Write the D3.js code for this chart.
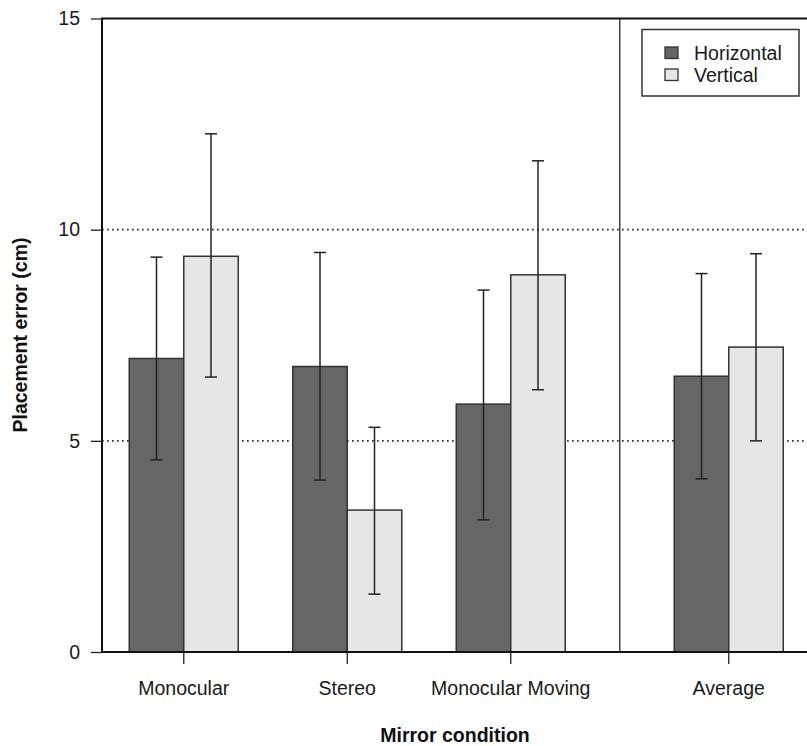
<!DOCTYPE html>
<html lang="en">
<head>
  <meta charset="utf-8">
  <title>Placement error by mirror condition</title>
  <script src="https://d3js.org/d3.v7.min.js" type="text/javascript"></script>
<style>
body {
  margin: 0;
  background: #fff;
}
svg {
  display: block;
  font-family: "Liberation Sans", Arial, sans-serif;
}
</style>
</head>
<body>
<svg></svg>

<script>

var categories = ['Monocular', 'Stereo', 'Monocular Moving', 'Average']
var series = ['Horizontal', 'Vertical']
var horizontalMean = [6.95, 6.76, 5.87, 6.53]
var horizontalLow = [4.55, 4.07, 3.13, 4.10]
var horizontalHigh = [9.35, 9.46, 8.57, 8.96]
var verticalMean = [9.37, 3.36, 8.93, 7.22]
var verticalLow = [6.51, 1.37, 6.21, 5.00]
var verticalHigh = [12.27, 5.32, 11.63, 9.43]
var yTicks = [0, 5, 10, 15]
var gridTicks = [5, 10]

var fills = {Horizontal: '#666', Vertical: '#e6e6e6'}

function drawChart() {
  var width = 807, height = 746
  var svg = d3.select('svg')
    .attr('width', width)
    .attr('height', height)

  // one unit = one bar width, R barplot style
  var x = d3.scaleLinear().domain([0, 13]).range([102, 102 + 13 * 54.5])
  var y = d3.scaleLinear().domain([0, 15]).range([652, 18.5])

  var groupStart = (i) => i * 3 + 0.5 + (i === 3 ? 1 : 0)

  var bars = []
  categories.forEach((c, i) => {
    bars.push({c, i, s: 'Horizontal', x0: groupStart(i), v: horizontalMean[i], lo: horizontalLow[i], hi: horizontalHigh[i]})
    bars.push({c, i, s: 'Vertical', x0: groupStart(i) + 1, v: verticalMean[i], lo: verticalLow[i], hi: verticalHigh[i]})
  })

  // dotted grid
  svg.append('g')
    .selectAll('line')
    .data(gridTicks)
    .enter()
    .append('line')
    .attr('x1', x(0))
    .attr('x2', width)
    .attr('y1', d => y(d))
    .attr('y2', d => y(d))
    .attr('stroke', '#333')
    .attr('stroke-width', 1.7)
    .attr('stroke-dasharray', '1.7,3.3')

  // divider before Average
  svg.append('line')
    .attr('x1', x(9.5))
    .attr('x2', x(9.5))
    .attr('y1', y(15))
    .attr('y2', y(0))
    .attr('stroke', '#444')
    .attr('stroke-width', 1.5)

  svg.append('g')
    .selectAll('rect')
    .data(bars)
    .enter()
    .append('rect')
    .attr('x', d => x(d.x0))
    .attr('width', x(1) - x(0))
    .attr('y', d => y(d.v))
    .attr('height', d => y(0) - y(d.v))
    .attr('fill', d => fills[d.s])
    .attr('stroke', '#333')
    .attr('stroke-width', 1.5)

  var err = svg.append('g')
    .attr('stroke', '#222')
    .attr('stroke-width', 1.5)
    .selectAll('g')
    .data(bars)
    .enter()
    .append('g')
  err.append('line')
    .attr('x1', d => x(d.x0 + 0.5))
    .attr('x2', d => x(d.x0 + 0.5))
    .attr('y1', d => y(d.lo))
    .attr('y2', d => y(d.hi))
  ;['lo', 'hi'].forEach(k => {
    err.append('line')
      .attr('x1', d => x(d.x0 + 0.5) - 6)
      .attr('x2', d => x(d.x0 + 0.5) + 6)
      .attr('y1', d => y(d[k]))
      .attr('y2', d => y(d[k]))
  })

  // frame: left axis, top and bottom lines
  svg.append('path')
    .attr('d', `M${width},${y(15)}H${x(0)}V${y(0)}H${width}`)
    .attr('fill', 'none')
    .attr('stroke', '#111')
    .attr('stroke-width', 2)

  var yAxis = svg.append('g')
    .attr('transform', `translate(${x(0)},0)`)
    .call(d3.axisLeft(y).tickValues(yTicks).tickSize(11).tickPadding(11))
  yAxis.select('.domain').remove()
  yAxis.selectAll('line').attr('stroke', '#222').attr('stroke-width', 1.3)
  yAxis.selectAll('text').attr('font-size', 19.5).attr('fill', '#1a1a1a').attr('font-family', null)

  var xAxis = svg.append('g')
    .attr('transform', `translate(0,${y(0)})`)
  xAxis.selectAll('line')
    .data(categories)
    .enter()
    .append('line')
    .attr('x1', (d, i) => x(groupStart(i) + 1))
    .attr('x2', (d, i) => x(groupStart(i) + 1))
    .attr('y1', 0)
    .attr('y2', 12)
    .attr('stroke', '#222')
    .attr('stroke-width', 1.3)
  xAxis.selectAll('text')
    .data(categories)
    .enter()
    .append('text')
    .attr('x', (d, i) => x(groupStart(i) + 1))
    .attr('y', 43)
    .attr('text-anchor', 'middle')
    .attr('font-size', 19.5)
    .attr('fill', '#1a1a1a')
    .text(d => d)

  svg.append('text')
    .attr('x', 455)
    .attr('y', 742)
    .attr('text-anchor', 'middle')
    .attr('font-size', 19.5)
    .attr('font-weight', 'bold')
    .attr('fill', '#111')
    .text('Mirror condition')

  svg.append('text')
    .attr('transform', 'translate(27,335)rotate(-90)')
    .attr('text-anchor', 'middle')
    .attr('font-size', 19.5)
    .attr('font-weight', 'bold')
    .attr('fill', '#111')
    .text('Placement error (cm)')

  // legend
  var legend = svg.append('g')
  legend.append('rect')
    .attr('x', 642)
    .attr('y', 29.5)
    .attr('width', 157)
    .attr('height', 66.5)
    .attr('fill', '#fff')
    .attr('stroke', '#333')
    .attr('stroke-width', 1.5)
  var items = legend.selectAll('g')
    .data(series)
    .enter()
    .append('g')
    .attr('transform', (d, i) => `translate(665,${47 + i * 22})`)
  items.append('rect')
    .attr('width', 13)
    .attr('height', 11.5)
    .attr('fill', d => fills[d])
    .attr('stroke', '#333')
    .attr('stroke-width', 1.3)
  items.append('text')
    .attr('x', 29)
    .attr('y', 13)
    .attr('font-size', 19.5)
    .attr('fill', '#1a1a1a')
    .text(d => d)
}

drawChart()

</script>
</body>
</html>
